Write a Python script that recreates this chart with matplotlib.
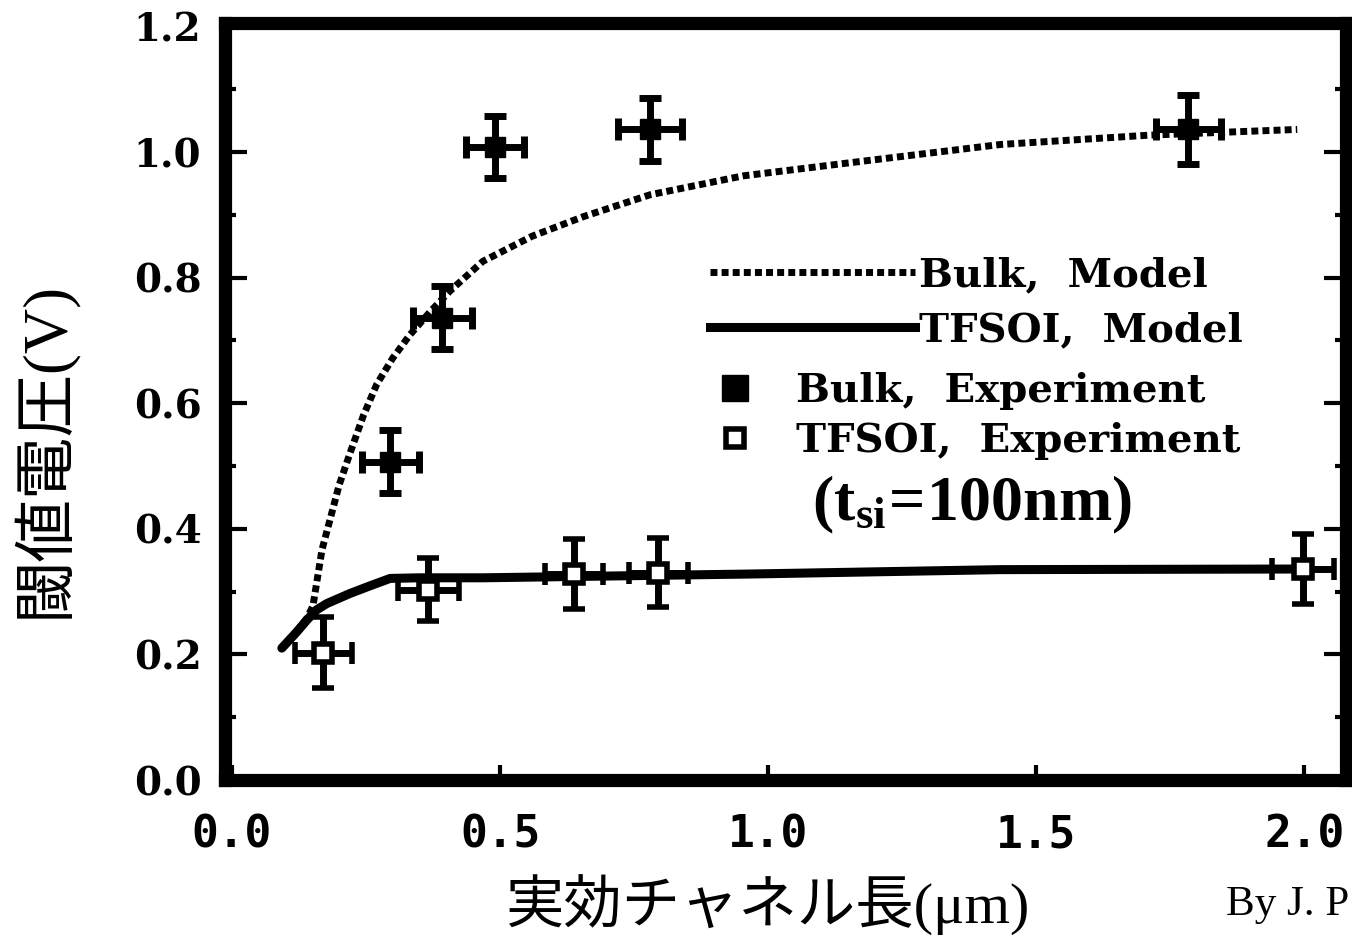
import numpy as np
import matplotlib.pyplot as plt
from matplotlib.lines import Line2D

plt.rcParams['mathtext.fontset'] = 'custom'
plt.rcParams['mathtext.bf'] = 'Liberation Serif:bold'
plt.rcParams['mathtext.rm'] = 'Liberation Serif'

# model curves
bulk_model_x = [0.093, 0.12, 0.14, 0.151, 0.158, 0.168, 0.183, 0.20, 0.22, 0.245, 0.27,
                0.30, 0.332, 0.37, 0.407, 0.468, 0.56, 0.655, 0.78, 0.953, 1.153,
                1.433, 1.713, 1.987]
bulk_model_y = [0.21, 0.235, 0.258, 0.277, 0.314, 0.367, 0.415, 0.47, 0.52, 0.58, 0.63,
                0.672, 0.709, 0.746, 0.779, 0.826, 0.866, 0.897, 0.932, 0.962, 0.983,
                1.012, 1.027, 1.036]
soi_model_x = [0.093, 0.12, 0.14, 0.158, 0.177, 0.22, 0.26, 0.295, 0.35, 0.468, 0.966,
               1.433, 2.0]
soi_model_y = [0.21, 0.235, 0.255, 0.271, 0.281, 0.297, 0.31, 0.321, 0.322, 0.322, 0.328,
               0.335, 0.336]

# experiment points (+ error bars)
bulk_exp_x = [0.295, 0.392, 0.49, 0.78, 1.784]
bulk_exp_y = [0.507, 0.736, 1.008, 1.036, 1.036]
bulk_xerr = [0.053, 0.055, 0.054, 0.06, 0.06]
bulk_yerr = [0.05, 0.05, 0.05, 0.05, 0.055]

soi_exp_x = [0.17, 0.366, 0.638, 0.795, 1.998]
soi_exp_y = [0.203, 0.303, 0.328, 0.33, 0.336]
soi_xerr = [0.053, 0.057, 0.055, 0.055, 0.058]
soi_yerr = [0.057, 0.05, 0.055, 0.055, 0.055]

xticks = [0.0, 0.5, 1.0, 1.5, 2.0]
yticks = [0.0, 0.2, 0.4, 0.6, 0.8, 1.0, 1.2]
labels = ['Bulk,  Model', 'TFSOI,  Model', 'Bulk,  Experiment', 'TFSOI,  Experiment']

W, H = 1352, 939
fig = plt.figure(figsize=(W / 100, H / 100), dpi=100)
ax = fig.add_axes([225 / W, 1 - 780 / H, (1346 - 225) / W, (780 - 23) / H])

bulk_ls = (0, (1.0, 0.6))

# model lines
ax.plot(bulk_model_x, bulk_model_y, color='black', lw=5, ls=bulk_ls)
ax.plot(soi_model_x, soi_model_y, color='black', lw=6.5, solid_capstyle='round')

# experiments
ax.errorbar(bulk_exp_x, bulk_exp_y, xerr=bulk_xerr, yerr=bulk_yerr, fmt='s',
            color='black', ms=15, elinewidth=5, capsize=8, capthick=5, clip_on=False)
ax.errorbar(soi_exp_x, soi_exp_y, xerr=soi_xerr, yerr=soi_yerr, fmt='s',
            color='black', mfc='white', mec='black', mew=4, ms=13,
            elinewidth=5, capsize=8, capthick=5, clip_on=False)

ax.set_xlim(-0.013, 2.078)
ax.set_ylim(0.0087, 1.2055)
ax.set_xticks(xticks)
ax.set_xticklabels(['%.1f' % v for v in xticks])
ax.set_yticks(yticks)
ax.set_yticklabels(['%.1f' % v for v in yticks])
ax.set_yticks(np.arange(0.1, 1.2, 0.2), minor=True)

for s in ax.spines.values():
    s.set_linewidth(9.5)
ax.tick_params(axis='y', which='major', direction='in', length=16, width=3,
               right=True, pad=17)
ax.tick_params(axis='y', which='minor', direction='in', length=8, width=3, right=True)
ax.tick_params(axis='x', which='major', direction='in', length=11, width=3, pad=24)
for t in ax.get_yticklabels():
    t.set_fontfamily('DejaVu Serif')
    t.set_fontweight('bold')
    t.set_fontsize(28)
for t in ax.get_xticklabels():
    t.set_fontfamily('DejaVu Sans Mono')
    t.set_fontweight('bold')
    t.set_fontsize(32)

# legends
leg_font = {'family': 'DejaVu Serif', 'weight': 'bold', 'size': 29}
line_handles = [Line2D([], [], color='black', lw=5, ls=bulk_ls),
                Line2D([], [], color='black', lw=6.5)]
leg1 = ax.legend(line_handles, labels[:2], loc='upper left',
                 bbox_to_anchor=(710 / W, 1 - 256 / H), bbox_transform=fig.transFigure,
                 frameon=False, borderpad=0, borderaxespad=0, handlelength=5.1,
                 handletextpad=0.1, labelspacing=0.42, prop=leg_font)
ax.add_artist(leg1)
mark_handles = [Line2D([], [], ls='none', marker='s', color='black', ms=19),
                Line2D([], [], ls='none', marker='s', mfc='white', mec='black', mew=4, ms=13)]
ax.legend(mark_handles, labels[2:], loc='upper left',
          bbox_to_anchor=(715 / W, 1 - 372 / H), bbox_transform=fig.transFigure,
          frameon=False, borderpad=0, borderaxespad=0, handlelength=1.0,
          handletextpad=1.0, labelspacing=0.3, prop=leg_font)

fig.text(972 / W, 1 - 505 / H, r'$\mathbf{(t_{si}\!=\!100nm)}$', ha='center', va='center',
         fontsize=46)

# axis titles
cjk = ['Liberation Serif', 'Noto Sans CJK JP']
fig.text(44 / W, 1 - 450 / H, '閾値電圧(V)', rotation=90, ha='center', va='center',
         family=cjk, fontsize=45)
fig.text(768 / W, 1 - 905 / H, '実効チャネル長(μm)', ha='center', va='center',
         family=cjk, fontsize=42)
fig.text(1349 / W, 1 - 905 / H, 'By J. P', ha='right', va='center',
         family='Liberation Serif', fontsize=31)

fig.savefig('out.png', dpi=100)
